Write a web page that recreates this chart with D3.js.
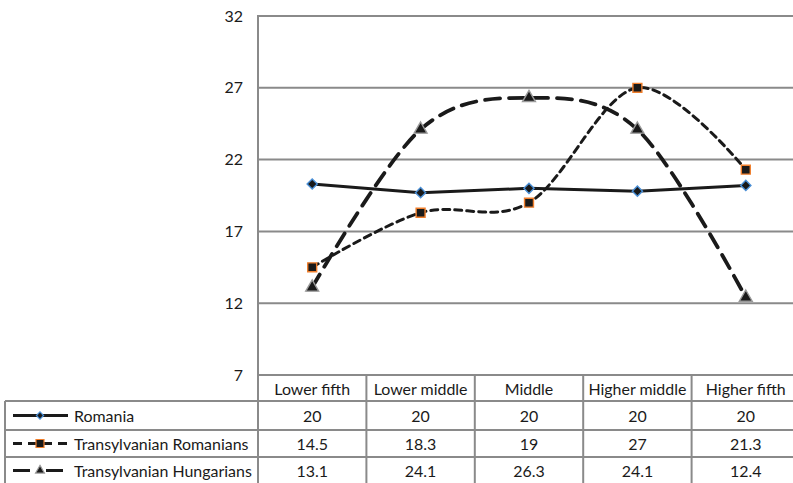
<!DOCTYPE html>
<html>
<head>
<meta charset="utf-8">
<script src="https://cdn.jsdelivr.net/npm/d3@7/dist/d3.min.js"></script>
<style>
  html, body { margin: 0; padding: 0; background: #fff; }
  svg { display: block; }
  text { font-family: "Lato", "Open Sans", sans-serif; fill: #1a1a1a; }
</style>
</head>
<body>
<svg id="chart" width="793" height="483"></svg>
<script>
// ---- data ----
const categories = ["Lower fifth", "Lower middle", "Middle", "Higher middle", "Higher fifth"];
const seriesNames = ["Romania", "Transylvanian Romanians", "Transylvanian Hungarians"];
const romania = [20.3, 19.7, 20.0, 19.8, 20.2];
const transRomanians = [14.5, 18.3, 19, 27, 21.3];
const transHungarians = [13.1, 24.1, 26.3, 24.1, 12.4];
const romaniaTable = ["20", "20", "20", "20", "20"];
const transRomaniansTable = ["14.5", "18.3", "19", "27", "21.3"];
const transHungariansTable = ["13.1", "24.1", "26.3", "24.1", "12.4"];
const yTicks = [7, 12, 17, 22, 27, 32];

// ---- layout ----
const svg = d3.select("#chart");
const plotLeft = 258, plotRight = 800, plotTop = 16, plotBottom = 375;
const rowLines = [375, 401, 430, 457, 484];
const legendLeft = 5;
const gridColor = "#8a8a8a";
const lineColor = "#1a1a1a";

// pick font size so the longest label matches the reference width
const probe = svg.append("text").attr("font-size", 14).text("Transylvanian Hungarians");
const w14 = probe.node().getComputedTextLength();
probe.remove();
const fs = Math.max(12, Math.min(16, 14 * 178 / w14));

const x = d3.scaleBand().domain(categories).range([plotLeft, plotRight]);
const y = d3.scaleLinear().domain([7, 32]).range([plotBottom, plotTop]);

// gridlines
svg.append("g").selectAll("line").data(yTicks).join("line")
  .attr("x1", plotLeft).attr("x2", plotRight)
  .attr("y1", d => y(d)).attr("y2", d => y(d))
  .attr("stroke", gridColor).attr("stroke-width", 2);

// y tick labels
svg.append("g").selectAll("text").data(yTicks).join("text")
  .attr("x", 243).attr("y", d => y(d)).attr("dy", "0.35em")
  .attr("text-anchor", "end").attr("font-size", fs)
  .text(d => d);

// table grid
const tg = svg.append("g").attr("stroke", gridColor).attr("stroke-width", 2);
tg.append("line").attr("x1", plotLeft).attr("x2", plotLeft).attr("y1", plotTop - 1).attr("y2", 484);
tg.selectAll("line.col").data(categories.slice(1)).join("line").attr("class", "col")
  .attr("x1", d => x(d)).attr("x2", d => x(d)).attr("y1", rowLines[0]).attr("y2", 484);
tg.selectAll("line.row").data(rowLines.slice(1)).join("line").attr("class", "row")
  .attr("x1", legendLeft).attr("x2", plotRight)
  .attr("y1", d => d).attr("y2", d => d);
tg.append("line").attr("x1", legendLeft).attr("x2", legendLeft).attr("y1", rowLines[1]).attr("y2", 484);

// header text
svg.append("g").selectAll("text").data(categories).join("text")
  .attr("x", d => x(d) + x.bandwidth() / 2)
  .attr("y", (rowLines[0] + rowLines[1]) / 2 + 1).attr("dy", "0.35em")
  .attr("text-anchor", "middle").attr("font-size", fs)
  .text(d => d);

// table values
const tableRows = [romaniaTable, transRomaniansTable, transHungariansTable];
tableRows.forEach((row, i) => {
  svg.append("g").selectAll("text").data(row).join("text")
    .attr("x", (d, j) => x(categories[j]) + x.bandwidth() / 2)
    .attr("y", (rowLines[i + 1] + rowLines[i + 2]) / 2 + 1).attr("dy", "0.35em")
    .attr("text-anchor", "middle").attr("font-size", fs)
    .text(d => d);
});

// series style
const styles = [
  { values: romania, dash: null, width: 3, curve: d3.curveLinear, marker: d3.symbolSquare, rot: 45, size: 52, stroke: "#4a8fd6" },
  { values: transRomanians, dash: "7,5", width: 3, curve: d3.curveCatmullRom.alpha(0), marker: d3.symbolSquare, rot: 0, size: 80, stroke: "#f07f2d" },
  { values: transHungarians, dash: "15,9", width: 3.8, curve: d3.curveCatmullRom.alpha(0), marker: d3.symbolTriangle, rot: 0, size: 72, stroke: "#9a9a9a" }
];

const plot = svg.append("g");
styles.forEach(s => {
  const pts = s.values.map((v, j) => [x(categories[j]) + x.bandwidth() / 2, y(v)]);
  plot.append("path")
    .attr("d", d3.line().curve(s.curve)(pts))
    .attr("fill", "none").attr("stroke", lineColor)
    .attr("stroke-width", s.width)
    .attr("stroke-dasharray", s.dash)
    .attr("stroke-linecap", s.dash ? "round" : "butt");
});
styles.forEach(s => {
  plot.append("g").selectAll("path").data(s.values).join("path")
    .attr("transform", (v, j) => `translate(${x(categories[j]) + x.bandwidth() / 2},${y(v)}) rotate(${s.rot})`)
    .attr("d", d3.symbol().type(s.marker).size(s.size))
    .attr("fill", lineColor).attr("stroke", s.stroke).attr("stroke-width", 1.4);
});

// legend in table
const legendSym = [
  { dash: null, width: 3, marker: d3.symbolSquare, rot: 45, size: 26, stroke: "#4a8fd6" },
  { dash: "9,6", width: 3, marker: d3.symbolSquare, rot: 0, size: 64, stroke: "#f07f2d" },
  { dash: "17,16", width: 3, marker: d3.symbolTriangle, rot: 0, size: 34, stroke: "#9a9a9a" }
];
seriesNames.forEach((name, i) => {
  const cy = (rowLines[i + 1] + rowLines[i + 2]) / 2;
  const g = svg.append("g");
  g.append("line").attr("x1", 13).attr("x2", 68).attr("y1", cy).attr("y2", cy)
    .attr("stroke", lineColor).attr("stroke-width", legendSym[i].width)
    .attr("stroke-dasharray", legendSym[i].dash);
  g.append("path").attr("transform", `translate(40,${cy}) rotate(${legendSym[i].rot})`)
    .attr("d", d3.symbol().type(legendSym[i].marker).size(legendSym[i].size))
    .attr("fill", lineColor).attr("stroke", legendSym[i].stroke).attr("stroke-width", 1.2);
  g.append("text").attr("x", 74).attr("y", cy + 1).attr("dy", "0.35em")
    .attr("font-size", fs).text(name);
});
</script>
</body>
</html>
